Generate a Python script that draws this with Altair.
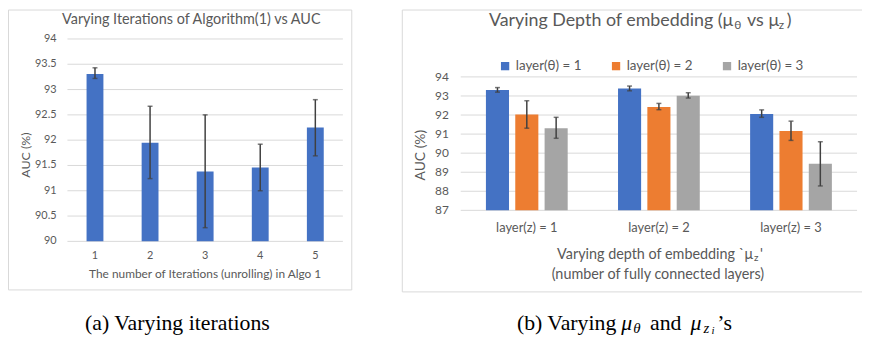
import altair as alt
import pandas as pd

# ---------------- data ----------------
iterations = ["1", "2", "3", "4", "5"]
auc_iter = [93.31, 91.95, 91.38, 91.46, 92.25]
auc_iter_lo = [93.22, 91.24, 90.27, 91.00, 91.69]
auc_iter_hi = [93.43, 92.67, 92.50, 91.92, 92.80]
left_ticks = [90, 90.5, 91, 91.5, 92, 92.5, 93, 93.5, 94]
left_tick_labels = ["90", "90.5", "91", "91.5", "92", "92.5", "93", "93.5", "94"]

z_layers = ["layer(z) = 1", "layer(z) = 2", "layer(z) = 3"]
theta_layers = ["layer(θ) = 1", "layer(θ) = 2", "layer(θ) = 3"]
auc_theta1 = [93.31, 93.39, 92.06]
auc_theta2 = [92.03, 92.42, 91.16]
auc_theta3 = [91.31, 93.01, 89.44]
lo_theta1 = [93.20, 93.27, 91.88]
lo_theta2 = [91.31, 92.28, 90.67]
lo_theta3 = [90.78, 92.89, 88.28]
hi_theta1 = [93.44, 93.52, 92.27]
hi_theta2 = [92.75, 92.61, 91.68]
hi_theta3 = [91.88, 93.17, 90.60]
right_ticks = [87, 88, 89, 90, 91, 92, 93, 94]
right_tick_labels = ["87", "88", "89", "90", "91", "92", "93", "94"]

BLUE, ORANGE, GRAY = "#4472C4", "#ED7D31", "#A5A5A5"
TXT = "#595959"
GRID = "#D9D9D9"
ERR = "#404040"
FONT = "Lato"
SERIF = "Liberation Serif"

W, H = 862, 331


def txt(s, x, y, size, align="left", font=FONT, color=TXT, angle=0, style="normal", baseline="middle"):
    kw = dict(align=align, baseline=baseline, font=font, fontSize=size, color=color, fontStyle=style)
    if angle:
        kw["angle"] = angle
    return alt.Chart(pd.DataFrame({"t": [s]})).mark_text(**kw).encode(
        text="t:N", x=alt.value(x), y=alt.value(y)
    )


def box(x1, x2, y1, y2):
    return alt.Chart(pd.DataFrame({"a": [0]})).mark_rect(
        fill=None, stroke=GRID, strokeWidth=1
    ).encode(x=alt.value(x1), x2=alt.value(x2), y=alt.value(y1), y2=alt.value(y2))


# ---------------- left panel ----------------
df_l = pd.DataFrame({
    "iter": iterations, "auc": auc_iter, "lo": auc_iter_lo, "hi": auc_iter_hi,
    "base": [90] * len(iterations),
})
df_lt = pd.DataFrame({"v": left_ticks, "lab": left_tick_labels})

xl = alt.X("iter:N", scale=alt.Scale(domain=iterations, range=[60, 338], paddingInner=0.694, paddingOuter=0.347), axis=None)
yl_scale = alt.Scale(domain=[90, 94], range=[234, 29.7], nice=False, zero=False)

grid_l = alt.Chart(df_lt).mark_rule(color=GRID, strokeWidth=1).encode(
    y=alt.Y("v:Q", scale=yl_scale, axis=None), x=alt.value(60), x2=alt.value(338))
ylab_l = alt.Chart(df_lt).mark_text(align="right", baseline="middle", font=FONT, fontSize=11, color=TXT).encode(
    y=alt.Y("v:Q", scale=yl_scale, axis=None), x=alt.value(49), text="lab:N")
bars_l = alt.Chart(df_l).mark_bar(color=BLUE).encode(
    x=xl, y=alt.Y("auc:Q", scale=yl_scale, axis=None), y2="base:Q")
err_l = alt.Chart(df_l).mark_rule(color=ERR, strokeWidth=1.5).encode(
    x=xl, y=alt.Y("lo:Q", scale=yl_scale, axis=None), y2="hi:Q")
caplo_l = alt.Chart(df_l).mark_tick(color=ERR, size=5, thickness=1.5).encode(
    x=xl, y=alt.Y("lo:Q", scale=yl_scale, axis=None))
caphi_l = alt.Chart(df_l).mark_tick(color=ERR, size=5, thickness=1.5).encode(
    x=xl, y=alt.Y("hi:Q", scale=yl_scale, axis=None))
xlab_l = alt.Chart(df_l).mark_text(align="center", baseline="middle", font=FONT, fontSize=11, color=TXT).encode(
    x=xl, y=alt.value(249), text="iter:N")

left = alt.layer(
    box(0.5, 347, 0.5, 283),
    grid_l, ylab_l, bars_l, err_l, caplo_l, caphi_l, xlab_l,
    txt("Varying Iterations of Algorithm(1) vs AUC", 185, 11, 14.5, align="center"),
    txt("The number of Iterations (unrolling) in Algo 1", 199, 267, 12, align="center"),
    txt("AUC (%)", 18, 147, 12.5, align="center", angle=270),
    txt("(a) Varying iterations", 171, 316, 22, align="center", font=SERIF, color="black"),
)

# ---------------- right panel ----------------
rows = []
for ti, (vals, los, his) in enumerate([(auc_theta1, lo_theta1, hi_theta1),
                                        (auc_theta2, lo_theta2, hi_theta2),
                                        (auc_theta3, lo_theta3, hi_theta3)]):
    for zi, z in enumerate(z_layers):
        rows.append({"z": z, "theta": theta_layers[ti], "auc": vals[zi], "lo": los[zi], "hi": his[zi], "base": 87})
df_r = pd.DataFrame(rows)
df_rt = pd.DataFrame({"v": right_ticks, "lab": right_tick_labels})

xr = alt.X("z:N", scale=alt.Scale(domain=z_layers, range=[457, 857], paddingInner=0.334, paddingOuter=0.167), axis=None)
xo = alt.XOffset("theta:N", scale=alt.Scale(domain=theta_layers, paddingInner=0.213, paddingOuter=0.106))
yr_scale = alt.Scale(domain=[87, 94], range=[202.7, 68], nice=False, zero=False)

grid_r = alt.Chart(df_rt).mark_rule(color=GRID, strokeWidth=1).encode(
    y=alt.Y("v:Q", scale=yr_scale, axis=None), x=alt.value(457), x2=alt.value(857))
ylab_r = alt.Chart(df_rt).mark_text(align="right", baseline="middle", font=FONT, fontSize=12, color=TXT).encode(
    y=alt.Y("v:Q", scale=yr_scale, axis=None), x=alt.value(445), text="lab:N")
bars_r = alt.Chart(df_r).mark_bar().encode(
    x=xr, xOffset=xo, y=alt.Y("auc:Q", scale=yr_scale, axis=None), y2="base:Q",
    color=alt.Color("theta:N", scale=alt.Scale(domain=theta_layers, range=[BLUE, ORANGE, GRAY]),
                    legend=alt.Legend(orient="none", legendX=495, legendY=50, direction="horizontal",
                                      columns=3, title=None, symbolType="square", symbolSize=70,
                                      symbolStrokeWidth=0, labelFont=FONT, labelFontSize=13.5,
                                      labelColor=TXT, columnPadding=28, labelOffset=4)))
err_r = alt.Chart(df_r).mark_rule(color=ERR, strokeWidth=1.5).encode(
    x=xr, xOffset=xo, y=alt.Y("lo:Q", scale=yr_scale, axis=None), y2="hi:Q")
caplo_r = alt.Chart(df_r).mark_tick(color=ERR, size=5, thickness=1.5).encode(
    x=xr, xOffset=xo, y=alt.Y("lo:Q", scale=yr_scale, axis=None))
caphi_r = alt.Chart(df_r).mark_tick(color=ERR, size=5, thickness=1.5).encode(
    x=xr, xOffset=xo, y=alt.Y("hi:Q", scale=yr_scale, axis=None))
xlab_r = alt.Chart(pd.DataFrame({"z": z_layers})).mark_text(
    align="center", baseline="middle", font=FONT, fontSize=13, color=TXT).encode(
    x=xr, y=alt.value(221), text="z:N")

right = alt.layer(
    box(398, 875, 0.5, 285),
    grid_r, ylab_r, bars_r, err_r, caplo_r, caphi_r, xlab_r,
    # title with subscripts
    txt("Varying Depth of embedding (μ", 732, 12, 18, align="right"),
    txt("θ", 733, 16, 12),
    txt("vs μ", 746, 12, 18),
    txt("z", 778, 16, 12),
    txt(")", 786, 12, 18),
    # x axis title
    txt("Varying depth of embedding `μ", 752, 248, 14.5, align="right"),
    txt("z", 753, 251, 10),
    txt("'", 759, 248, 14.5),
    txt("(number of fully connected layers)", 656, 268, 14.5, align="center"),
    txt("AUC (%)", 417, 147, 14, align="center", angle=270),
    # caption (b)
    txt("(b) Varying", 614, 316, 22, align="right", font=SERIF, color="black"),
    txt("μ", 619, 316, 22, font=SERIF, color="black", style="italic"),
    txt("θ", 631, 321, 15, font=SERIF, color="black", style="italic"),
    txt("and", 648, 316, 22, font=SERIF, color="black"),
    txt("μ", 689, 316, 22, font=SERIF, color="black", style="italic"),
    txt("z", 702, 321, 15, font=SERIF, color="black", style="italic"),
    txt("i", 710, 325, 11, font=SERIF, color="black", style="italic"),
    txt("’s", 716, 316, 22, font=SERIF, color="black"),
)

chart = alt.layer(left, right).resolve_scale(
    x="independent", y="independent", xOffset="independent", color="independent"
).properties(
    width=W, height=H, padding=0, autosize=alt.AutoSizeParams(type="none"), background="white"
).configure_view(stroke=None)

chart.save("out.html", embed_options={"renderer": "svg", "actions": False})
